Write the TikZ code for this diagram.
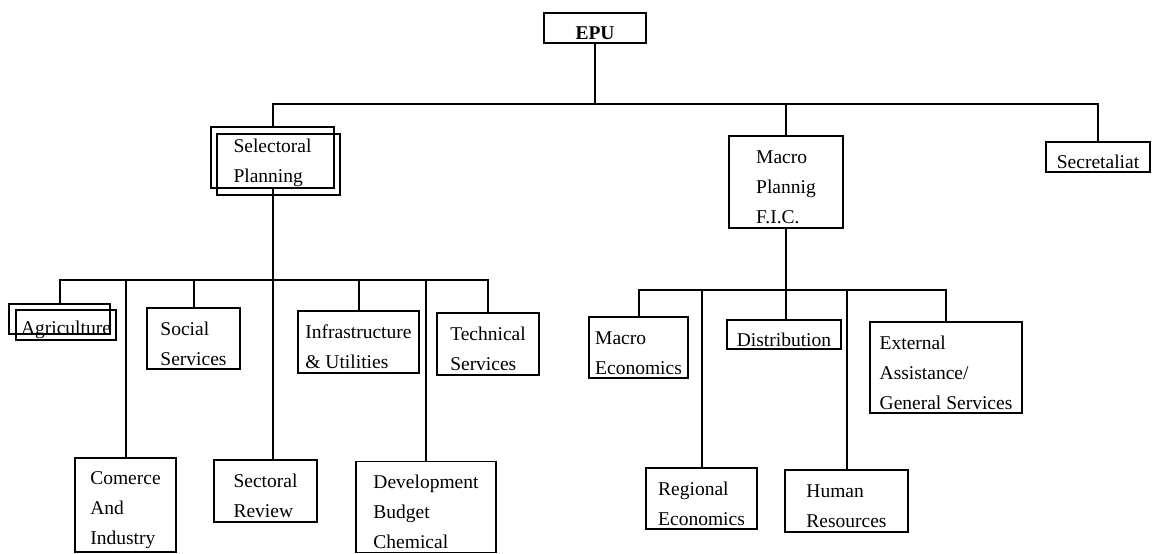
\documentclass[tikz,border=0pt]{standalone}
\usepackage{fontspec}
\setmainfont{Liberation Serif}
\usepackage{tikz}
\newcommand{\unitstrut}{\rule{0pt}{24pt}}

\begin{document}
\begin{tikzpicture}[x=1pt, y=-1pt,
  unit/.style={draw, line width=1.4pt, align=left, inner xsep=2pt, inner ysep=0.5pt,
    font=\fontsize{19.5}{30}\selectfont},
  link/.style={line width=2pt}]
  \path[fill=white] (0,0) rectangle (1152,554);

  % top level
  \node[unit, minimum width=102, minimum height=30] (epu) at (595,28) {\unitstrut\bfseries EPU};
  \node[unit, minimum width=123, minimum height=61] (sect) at (272.5,157.5) {\unitstrut Selectoral\\Planning};
  \node[unit, minimum width=123, minimum height=61] (sectb) at (278.5,164.5) {};
  \node[unit, minimum width=114, minimum height=92] (macro) at (786,182) {\unitstrut Macro\\Plannig\\F.I.C.};
  \node[unit, minimum width=104, minimum height=30] (secr) at (1098,157) {\unitstrut Secretaliat};

  % sectoral units
  \node[unit, minimum width=101, minimum height=30] (agrib) at (59.5,319) {};
  \node[unit, minimum width=100, minimum height=30] (agri) at (66,325) {\unitstrut Agriculture};
  \node[unit, minimum width=101, minimum height=94] (comm) at (125.5,505) {\unitstrut Comerce\\And\\Industry};
  \node[unit, minimum width=93, minimum height=61] (soc) at (193.5,338.5) {\unitstrut Social\\Services};
  \node[unit, minimum width=103, minimum height=62] (srev) at (265.5,491) {\unitstrut Sectoral\\Review};
  \node[unit, minimum width=121, minimum height=62] (infra) at (358.5,342) {\unitstrut Infrastructure\\\& Utilities};
  \node[unit, minimum width=140, minimum height=91] (dev) at (426,507) {\unitstrut Development\\Budget\\Chemical};
  \node[unit, minimum width=102, minimum height=62] (tech) at (488,344) {\unitstrut Technical\\Services};

  % macro units
  \node[unit, minimum width=99, minimum height=61] (meco) at (638.5,347.5) {\unitstrut Macro\\Economics};
  \node[unit, minimum width=111, minimum height=61] (reg) at (701.5,498.5) {\unitstrut Regional\\Economics};
  \node[unit, minimum width=114, minimum height=29] (dist) at (784,334.5) {\unitstrut Distribution};
  \node[unit, minimum width=123, minimum height=62] (hum) at (846.5,501) {\unitstrut Human\\Resources};
  \node[unit, minimum width=152, minimum height=91] (ext) at (946,367.5) {\unitstrut External\\Assistance/\\General Services};

  % lines
  \coordinate (topbus) at (595,104);
  \coordinate (lbus) at (272.5,280);
  \coordinate (rbus) at (786,290);

  \draw[link] (epu.south) -- (topbus);
  \draw[link] (topbus) -| (sect.north);
  \draw[link] (topbus) -| (macro.north);
  \draw[link] (topbus) -| (secr.north);

  \draw[link] (sect.south) -- (sect.south |- srev.north);
  \draw[link] (lbus) -| (agrib.north);
  \draw[link] (lbus) -| (comm.north);
  \draw[link] (lbus) -| (soc.north);
  \draw[link] (lbus) -| (infra.north);
  \draw[link] (lbus) -| (dev.north);
  \draw[link] (lbus) -| (tech.north);

  \draw[link] (macro.south) -- (macro.south |- dist.north);
  \draw[link] (rbus) -| (meco.north);
  \draw[link] (rbus) -| (reg.north);
  \draw[link] (rbus) -| (hum.north);
  \draw[link] (rbus) -| (ext.north);
\end{tikzpicture}
\end{document}
